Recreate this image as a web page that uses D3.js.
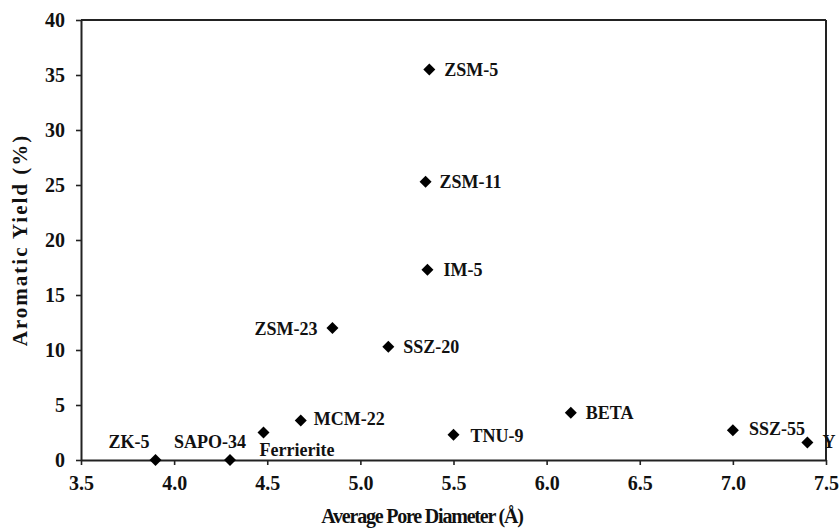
<!DOCTYPE html>
<html><head><meta charset="utf-8">
<script src="https://cdn.jsdelivr.net/npm/d3@7"></script>
<style>body{margin:0;background:#fff}svg{display:block}text{font-family:"Liberation Serif","Times New Roman",serif;font-weight:bold;fill:#111}</style>
</head><body><svg id="c" width="839" height="528"></svg>
<script>
const names = ["ZSM-5","ZSM-11","IM-5","ZSM-23","SSZ-20","MCM-22","Ferrierite","ZK-5","SAPO-34","TNU-9","BETA","SSZ-55","Y"];
const poreDiameter = [5.37,5.35,5.36,4.85,5.15,4.68,4.48,3.90,4.30,5.50,6.13,7.00,7.40];
const aromaticYield = [35.5,25.3,17.3,12.0,10.3,3.6,2.5,0,0,2.3,4.3,2.7,1.6];
// label placement: dx, dy relative to point, anchor
const labelDx = [15,14,16,-15,15,13,-4,-6,16,17,15,16,15];
const labelDy = [6,6,6,7,6,5,23,-12,-12,7,6,5,6];
const labelAnchor = ["start","start","start","end","start","start","start","end","end","start","start","start","start"];
const xTicks = [3.5,4.0,4.5,5.0,5.5,6.0,6.5,7.0,7.5];
const yTicks = [0,5,10,15,20,25,30,35,40];

const svg = d3.select("#c");
const L=81,R=826,T=20,B=460;
const x = d3.scaleLinear().domain([3.5,7.5]).range([L,R]);
const y = d3.scaleLinear().domain([0,40]).range([B,T]);

const xa = svg.append("g").attr("transform",`translate(0,${B})`)
  .call(d3.axisBottom(x).tickValues(xTicks).tickFormat(d3.format(".1f")).tickSize(5).tickSizeOuter(0));
const ya = svg.append("g").attr("transform",`translate(${L},0)`)
  .call(d3.axisLeft(y).tickValues(yTicks).tickFormat(d3.format("d")).tickSize(5).tickSizeOuter(0));
[xa,ya].forEach(a=>{a.select(".domain").attr("stroke","#222").attr("stroke-width",2);
  a.selectAll(".tick line").attr("stroke","#222").attr("stroke-width",1.6);
  a.selectAll(".tick text").style("font-size","20px").attr("fill","#111");});
xa.selectAll(".tick text").attr("y",0).attr("dy",30);
ya.selectAll(".tick text").attr("x",-16).attr("dy","0.34em");
// box top & right
svg.append("line").attr("x1",L).attr("x2",R).attr("y1",T).attr("y2",T).attr("stroke","#222").attr("stroke-width",2);
svg.append("line").attr("x1",R).attr("x2",R).attr("y1",T).attr("y2",B).attr("stroke","#222").attr("stroke-width",2);

const sym = d3.symbol().type(d3.symbolSquare).size(72);
const g = svg.append("g");
names.forEach((n,i)=>{
  const px=x(poreDiameter[i]), py=y(aromaticYield[i]);
  g.append("path").attr("d",sym()).attr("transform",`translate(${px},${py}) rotate(45)`).attr("fill","#000");
  g.append("text").attr("x",px+labelDx[i]).attr("y",py+labelDy[i]).attr("text-anchor",labelAnchor[i])
   .style("font-size","18px").text(n);
});

svg.append("text").attr("x",422).attr("y",523).attr("text-anchor","middle").style("font-size","20px").style("letter-spacing","-1.2px").text("Average Pore Diameter (Å)");
svg.append("text").attr("transform","translate(27,240) rotate(-90)").attr("text-anchor","middle").style("font-size","21px").style("letter-spacing","2px").text("Aromatic Yield (%)");
</script></body></html>
